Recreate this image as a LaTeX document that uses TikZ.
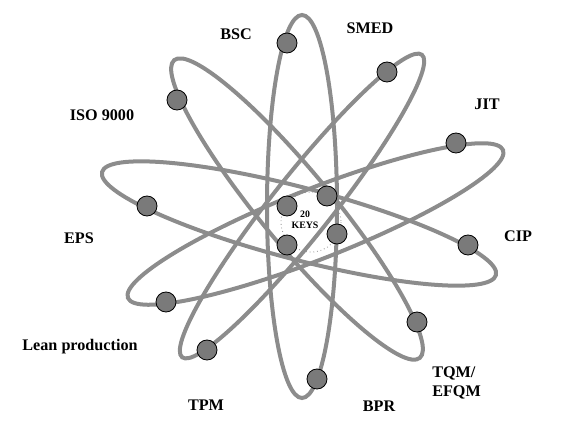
\documentclass[tikz,border=0pt]{standalone}
\usepackage{fontspec}
\setmainfont{Liberation Serif}
\usetikzlibrary{positioning}
\definecolor{orbitgray}{RGB}{140,140,140}
\definecolor{coregray}{RGB}{122,122,122}
\tikzset{
  orbit/.style={draw=orbitgray,line width=0.1cm},
  electron/.style={circle,draw=black,line width=0.6pt,fill=coregray,
    minimum size=0.5cm,inner sep=0pt},
  key/.style={font=\fontsize{11.5}{14.2}\selectfont\bfseries,inner sep=0pt,anchor=base},
  core/.style={font=\fontsize{7}{7.8}\selectfont\bfseries,inner sep=0pt,align=center},
}
\begin{document}
\begin{tikzpicture}[x=0.025cm,y=-0.025cm]
  \useasboundingbox (0,0) rectangle (570,436);
  % the five orbits
  \foreach \cx/\cy/\ang/\ra/\rb in {302/206.5/90/191.5/35, 297/209/-50.5/193/36,
      302/206/51.6/193/30, 315.5/224/21.5/201.6/35, 299/223.5/-14.65/203.6/36}
    \draw[orbit,rotate around={\ang:(\cx,\cy)}] (\cx,\cy) ellipse [x radius=\ra, y radius=\rb];
  % nucleus
  \draw[gray!80,dotted,line width=0.6pt] (311,222) circle [radius=30];
  \node[core] (keys) at (305,219.5) {20\\KEYS};
  \node[electron] (n1) at (287,206) {};
  \node[electron] (n2) at (327,196) {};
  \node[electron] (n3) at (337,234) {};
  \node[electron] (n4) at (287,245) {};
  % electrons
  \node[electron] (bsc) at (287,43) {};
  \node[electron] (smed) at (387,72) {};
  \node[electron] (jit) at (456,143) {};
  \node[electron] (iso) at (177,100) {};
  \node[electron] (eps) at (147,206) {};
  \node[electron] (cip) at (468,245) {};
  \node[electron] (lean) at (166,302) {};
  \node[electron] (tpm) at (207,350) {};
  \node[electron] (tqm) at (417,322) {};
  \node[electron] (bpr) at (317,379) {};
  % labels
  \node[key] (bsc label) at (236,39) {BSC};
  \node[key] (smed label) at (370,33) {SMED};
  \node[key] (jit label) at (487,109) {JIT};
  \node[key] (iso label) at (102,120) {ISO 9000};
  \node[key] (eps label) at (79,243) {EPS};
  \node[key] (cip label) at (518,241) {CIP};
  \node[key] (lean label) at (80,350) {Lean production};
  \node[key] (tpm label) at (206,410) {TPM};
  \node[key,anchor=north west,align=left] (tqm label) at (432,366) {TQM/\\EFQM};
  \node[key] (bpr label) at (379,411) {BPR};
\end{tikzpicture}
\end{document}
